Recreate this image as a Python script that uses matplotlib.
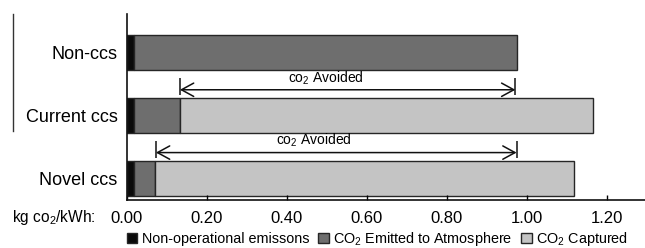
import numpy as np
import matplotlib
matplotlib.use('Agg')
import matplotlib.pyplot as plt
from matplotlib.patches import Patch
from matplotlib.lines import Line2D

plt.rcParams['font.family'] = ['Liberation Sans', 'DejaVu Sans']
plt.rcParams['mathtext.fontset'] = 'custom'
plt.rcParams['mathtext.rm'] = 'Liberation Sans'
plt.rcParams['mathtext.it'] = 'Liberation Sans'

# data (kg CO2 / kWh)
categories = ['Non-ccs', 'Current ccs', 'Novel ccs']
non_operational = [0.019, 0.019, 0.019]
emitted = [0.958, 0.114, 0.052]
captured = [0.0, 1.034, 1.048]
avoided_start = [0.133, 0.073]          # Current ccs, Novel ccs
avoided_end = [0.972, 0.975]
xticks = [0.0, 0.2, 0.4, 0.6, 0.8, 1.0, 1.2]

c_black = '#0a0a0a'
c_dark = '#6e6e6e'
c_light = '#c4c4c4'
c_edge = '#262626'

fig = plt.figure(figsize=(6.45, 2.48), dpi=100)
ax = fig.add_axes([0.1964, 0.1935, 0.8036, 0.75])

y = np.arange(len(categories))
h = 0.55
non_operational = np.array(non_operational)
emitted = np.array(emitted)
captured = np.array(captured)

ax.barh(y, non_operational, height=h, color=c_black, edgecolor=c_edge, linewidth=1.0)
ax.barh(y, emitted, left=non_operational, height=h, color=c_dark, edgecolor=c_edge, linewidth=1.0)
keep = captured > 0
ax.barh(y[keep], captured[keep], left=(non_operational + emitted)[keep], height=h,
        color=c_light, edgecolor=c_edge, linewidth=1.0)

# CO2 avoided arrows
for i, (x0, x1) in enumerate(zip(avoided_start, avoided_end)):
    ya = y[i + 1] - 0.41
    ax.annotate('', xy=(x0, ya), xytext=(x1, ya),
                arrowprops=dict(arrowstyle='<->,head_length=0.55,head_width=0.3',
                                color='#111111', lw=1.1,
                                mutation_scale=16, shrinkA=0, shrinkB=0))
    ax.vlines([x0, x1], ya - 0.19, ya + 0.09, color='#111111', lw=1.1)
    xm = (x0 + x1) / 2 - 0.055
    ax.text(xm, ya - 0.05, 'co$_2$ Avoided', ha='center', va='bottom', fontsize=10)

ax.set_ylim(2.345, -0.616)
ax.set_xlim(0, 1.296)
ax.set_yticks(y)
ax.set_yticklabels(categories, fontsize=13)
ax.set_xticks(xticks)
ax.set_xticklabels(['%.2f' % v for v in xticks], fontsize=12)
ax.tick_params(axis='y', length=0, pad=6.5)
ax.tick_params(axis='x', direction='in', length=3.5, width=1, pad=8)

for s in ['top', 'right']:
    ax.spines[s].set_visible(False)
for s in ['left', 'bottom']:
    ax.spines[s].set_linewidth(1.2)
    ax.spines[s].set_color('#111111')

fig.text(0.018, 0.121, 'kg co$_2$/kWh:', fontsize=11.2, ha='left', va='center')

# stray frame line on the left
fig.add_artist(Line2D([0.02, 0.02], [0.944, 0.472], color='#333333', lw=1.0))

handles = [Patch(facecolor=c_black, edgecolor=c_edge),
           Patch(facecolor=c_dark, edgecolor=c_edge),
           Patch(facecolor=c_light, edgecolor=c_edge)]
labels = ['Non-operational emissons', 'CO$_2$ Emitted to Atmosphere', 'CO$_2$ Captured']
fig.legend(handles, labels, loc='center', bbox_to_anchor=(0.585, 0.036), ncol=3,
           frameon=False, fontsize=10.4, handlelength=0.75, handleheight=0.75,
           handletextpad=0.3, columnspacing=0.6, borderpad=0, borderaxespad=0)

fig.savefig('out.png', dpi=100)
